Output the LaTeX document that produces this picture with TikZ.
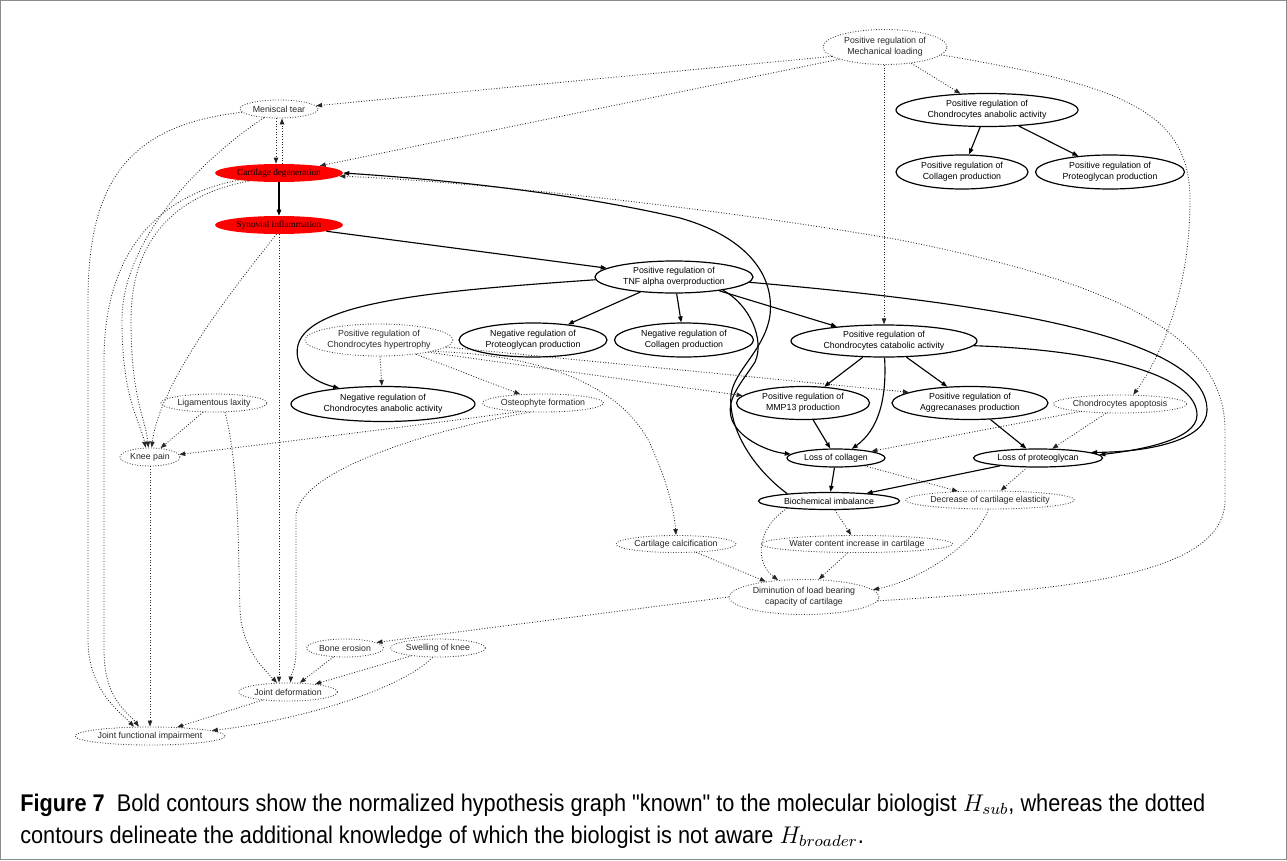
\documentclass[tikz,border=0pt]{standalone}
\usepackage{fontspec}
\setmainfont{Liberation Sans}
\newfontfamily\serifx{Liberation Serif}
\newfontfamily\capfont[FakeStretch=0.9]{Liberation Sans}
\usetikzlibrary{shapes.geometric,arrows.meta}
\newsavebox\capboxA
\newsavebox\capboxB
\newdimen\capw
\begin{document}
\sbox\capboxA{\capfont\fontsize{12}{14}\selectfont\textbf{Figure 7}\ \ Bold contours show the normalized hypothesis graph "known" to the molecular biologist $H_{sub}$, whereas the dotted}%
\sbox\capboxB{\capfont\fontsize{12}{14}\selectfont contours delineate the additional knowledge of which the biologist is not aware $H_{broader}$.}%
\capw=\wd\capboxA
\pgfmathsetmacro\capsc{888.75/\the\capw}%
\begin{tikzpicture}[x=0.75pt,y=-0.75pt,
  base/.style={ellipse, inner sep=0pt, align=center, font=\fontsize{6.6}{8.5}\selectfont},
  known/.style={base, draw, line width=0.9pt},
  extra/.style={base, draw=black!75, line width=0.65pt, dash pattern=on 0.65pt off 1.3pt, text=black!85},
  hot/.style={base, fill=red, font=\serifx\fontsize{6.9}{8}\selectfont},
  sz/.style 2 args={minimum width=#1*0.75pt, minimum height=#2*0.75pt},
  tipx/.style={-{Triangle[length=4.5pt,width=3.3pt]}},
  se/.style={draw, line width=0.85pt, tipx},
  de/.style={draw=black!85, line width=0.65pt, dash pattern=on 0.65pt off 1.35pt, tipx},
]
\useasboundingbox (0,0) rectangle (1287,860);
\draw[black!45, line width=0.8pt] (0.5,0.5) rectangle (1286.5,859.5);

% nodes
\node[extra, sz={124}{35}] (ml) at (885,47) {Positive regulation of\\Mechanical loading};
\node[extra, sz={78}{18}] (mt) at (279,109) {Meniscal tear};
\node[hot, sz={128}{18}] (cd) at (279,173) {Cartilage degeneration};
\node[hot, sz={128}{18}] (si) at (279,225) {Synovial inflammation};
\node[known, sz={182}{33}] (pca) at (987,110) {Positive regulation of\\Chondrocytes anabolic activity};
\node[known, sz={132}{34}] (pcp) at (962,172) {Positive regulation of\\Collagen production};
\node[known, sz={149}{34}] (ppp) at (1110,172) {Positive regulation of\\Proteoglycan production};
\node[known, sz={158}{32}] (tnf) at (674,277) {Positive regulation of\\TNF alpha overproduction};
\node[extra, sz={148}{32}] (hyp) at (379,340) {Positive regulation of\\Chondrocytes hypertrophy};
\node[known, sz={148}{34}] (npp) at (533,340) {Negative regulation of\\Proteoglycan production};
\node[known, sz={139}{34}] (npc) at (684,340) {Negative regulation of\\Collagen production};
\node[known, sz={186}{32}] (pcat) at (884,341) {Positive regulation of\\Chondrocytes catabolic activity};
\node[known, sz={184}{35}] (nca) at (383,404) {Negative regulation of\\Chondrocytes anabolic activity};
\node[extra, sz={106}{18}] (ll) at (214,403) {Ligamentous laxity};
\node[extra, sz={121}{18}] (ost) at (543,403) {Osteophyte formation};
\node[known, sz={133}{33}] (mmp) at (803,403) {Positive regulation of\\MMP13 production};
\node[known, sz={156}{33}] (agg) at (970,403) {Positive regulation of\\Aggrecanases production};
\node[extra, sz={133}{18}] (apo) at (1120,404) {Chondrocytes apoptosis};
\node[extra, sz={60}{18}] (kp) at (150,457) {Knee pain};
\node[known, sz={98}{18}] (lcol) at (836,458) {Loss of collagen};
\node[known, sz={129}{18}] (lpg) at (1038,458) {Loss of proteoglycan};
\node[known, sz={141}{17}] (bio) at (829,501) {Biochemical imbalance};
\node[extra, sz={167}{18}] (dec) at (990,500) {Decrease of cartilage elasticity};
\node[extra, sz={120}{17}] (calc) at (676,544) {Cartilage calcification};
\node[extra, sz={190}{17}] (wat) at (857,544) {Water content increase in cartilage};
\node[extra, sz={150}{35}] (dim) at (804,597) {Diminution of load bearing\\capacity of cartilage};
\node[extra, sz={77}{18}] (be) at (345,648) {Bone erosion};
\node[extra, sz={95}{18}] (sw) at (438,648) {Swelling of knee};
\node[extra, sz={99}{18}] (jd) at (288,692) {Joint deformation};
\node[extra, sz={150}{18}] (jfi) at (150,736) {Joint functional impairment};

% solid edges
\draw[se] (pca) -- (pcp);
\draw[se] (pca) -- (ppp);
\draw[se] (cd) -- (si);
\draw[se] (si) -- (tnf);
\draw[se] (tnf) -- (npp);
\draw[se] (tnf) -- (npc);
\draw[se] (tnf) -- (pcat);
\draw[se] (tnf.182) .. controls (450,290) and (310,300) .. (298,345) .. controls (292,370) and (318,383) .. (nca.160);
\draw[se] (tnf.345) .. controls (750,305) and (765,340) .. (755,362) .. controls (740,385) and (725,400) .. (732,420) .. controls (740,440) and (770,452) .. (lcol.175);
\draw[se] (tnf.-4) .. controls (950,300) and (1207,330) .. (1207,410) .. controls (1207,440) and (1150,452) .. (lpg.6);
\draw[se] (pcat.-3) .. controls (1100,350) and (1197,375) .. (1197,415) .. controls (1197,440) and (1140,450) .. (lpg.3);
\draw[se] (pcat) -- (mmp);
\draw[se] (pcat) -- (agg);
\draw[se] (pcat.-88) .. controls (887,400) and (878,430) .. (lcol.30);
\draw[se] (mmp) -- (lcol);
\draw[se] (agg) -- (lpg);
\draw[se] (lcol) -- (bio);
\draw[se] (lpg) -- (bio);
\draw[se] (bio.170) .. controls (755,470) and (728,430) .. (731,395) .. controls (734,370) and (765,350) .. (770,315) .. controls (775,270) and (740,235) .. (680,218) .. controls (560,190) and (420,178) .. (cd.east);

% dotted edges
\draw[de] (ml.190) -- (mt.5);
\draw[de] (ml.195) -- (cd.10);
\draw[de] (ml) -- (pca);
\draw[de] (ml.south -| pcat.north) -- (pcat.north);
\draw[de] (ml.-8) .. controls (1120,85) and (1190,110) .. (1190,200) .. controls (1190,300) and (1155,365) .. (apo.35);
\draw[de] ([xshift=-2.25pt]mt.south) -- ([xshift=-2.25pt]cd.north);
\draw[de] ([xshift=2.25pt]cd.north) -- ([xshift=2.25pt]mt.south);
\draw[de] (mt.185) .. controls (130,125) and (88,180) .. (88,300) -- (88,640) .. controls (88,690) and (120,712) .. (jfi.150);
\draw[de] (cd.190) .. controls (160,195) and (104,250) .. (104,360) -- (104,650) .. controls (104,700) and (128,712) .. (jfi.140);
\draw[de] (mt.210) .. controls (200,160) and (122,240) .. (122,320) .. controls (122,400) and (140,420) .. (kp.115);
\draw[de] (cd.195) .. controls (175,195) and (131,240) .. (131,320) .. controls (131,400) and (146,420) .. (kp.100);
\draw[de] (si.255) .. controls (240,280) and (160,380) .. (kp.80);
\draw[de] (si.south) -- (si.south |- jd.north);
\draw[de] (ll) -- (kp);
\draw[de] (ll.-40) .. controls (240,470) and (238,560) .. (240,610) .. controls (242,650) and (265,670) .. (jd.140);
\draw[de] (ost.200) .. controls (420,425) and (260,445) .. (kp.5);
\draw[de] (ost.215) .. controls (430,430) and (300,470) .. (296,515) -- (296,650) .. controls (296,668) and (291,675) .. (jd.75);
\draw[de] (hyp) -- (nca);
\draw[de] (hyp) -- (ost);
\draw[de] (hyp.-14) -- (mmp.173);
\draw[de] (hyp.-6) -- (agg.170);
\draw[de] (hyp.-12) .. controls (560,355) and (630,395) .. (653,450) .. controls (668,485) and (674,510) .. (calc.north);
\draw[de] (apo) -- (lcol);
\draw[de] (apo) -- (lpg);
\draw[de] (lcol) -- (dec);
\draw[de] (lpg) -- (dec);
\draw[de] (bio) -- (wat);
\draw[de] (bio.190) .. controls (760,525) and (752,560) .. (dim.147);
\draw[de] (calc) -- (dim.158);
\draw[de] (wat) -- (dim.50);
\draw[de] (dec.260) .. controls (975,545) and (920,580) .. (dim.6);
\draw[de] (dim.-3) .. controls (1050,590) and (1225,580) .. (1225,500) -- (1225,430) .. controls (1225,330) and (1100,280) .. (900,240) .. controls (700,205) and (450,180) .. (cd.-3);
\draw[de] (dim.west) -- (be.10);
\draw[de] (be) -- (jd);
\draw[de] (sw) -- (jd);
\draw[de] (sw.240) .. controls (400,690) and (300,720) .. (jfi.5);
\draw[de] (jd) -- (jfi.18);
\draw[de] (kp.south) -- (jfi.north);

% caption
\node[anchor=base west, inner sep=0pt] (capA) at (20,811) {\scalebox{\capsc}{\usebox\capboxA}};
\node[anchor=base west, inner sep=0pt] (capB) at (20,843) {\scalebox{\capsc}{\usebox\capboxB}};
\end{tikzpicture}
\end{document}
